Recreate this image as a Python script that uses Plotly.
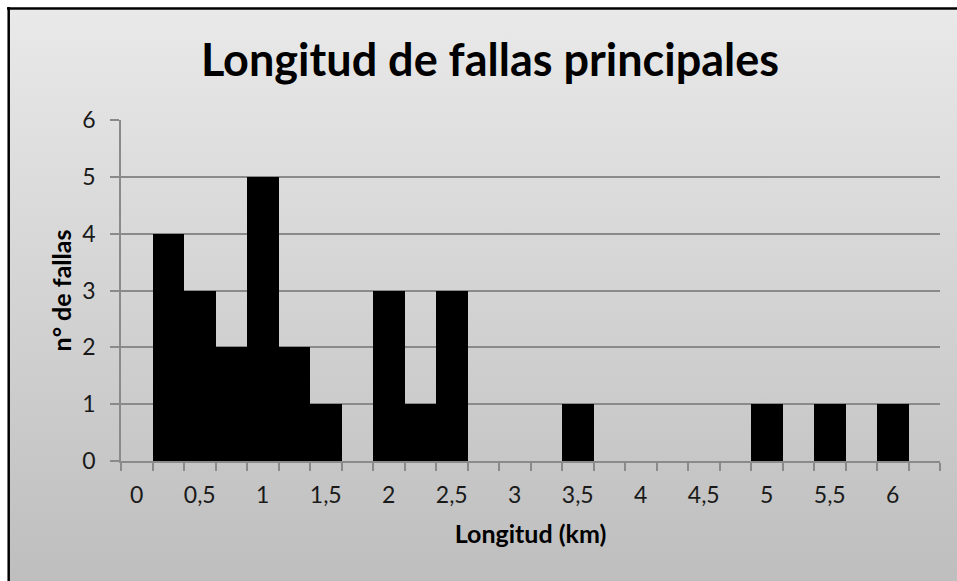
import base64
import plotly.graph_objects as go

# ---- data ----
bin_values = [0, 0.25, 0.5, 0.75, 1, 1.25, 1.5, 1.75, 2, 2.25, 2.5, 2.75, 3,
              3.25, 3.5, 3.75, 4, 4.25, 4.5, 4.75, 5, 5.25, 5.5, 5.75, 6, 6.25]
counts = [0, 4, 3, 2, 5, 2, 1, 0, 3, 1, 3, 0, 0,
          0, 1, 0, 0, 0, 0, 0, 1, 0, 1, 0, 1, 0]
y_ticks = [0, 1, 2, 3, 4, 5, 6]

title_text = "Longitud de fallas principales"
x_title = "Longitud (km)"
y_title = "n° de fallas"

# ---- geometry (figure pixels; body margin removed below) ----
W, H = 957, 581
L, R, T, B = 121, 940, 120, 461
pw, ph = R - L, B - T


def px(x):
    return (x - L) / pw


def py(y):
    return (B - y) / ph


bin_w = bin_values[1] - bin_values[0]

svg = (
    '<svg xmlns="http://www.w3.org/2000/svg" width="100" height="100" preserveAspectRatio="none">'
    '<defs><linearGradient id="g" x1="0" y1="0" x2="0" y2="1">'
    '<stop offset="0" stop-color="#e9e9e9"/><stop offset="1" stop-color="#bebebe"/>'
    '</linearGradient></defs><rect width="100" height="100" fill="url(#g)"/></svg>'
)
src = "data:image/svg+xml;base64," + base64.b64encode(svg.encode()).decode()

fig = go.Figure(
    go.Bar(
        x=bin_values,
        y=counts,
        width=bin_w,
        marker=dict(color="#000000", line=dict(width=0)),
        hoverinfo="x+y",
    )
)

axis_col = "#8a8a8a"
font_fam = "Lato, 'Open Sans', sans-serif"

fig.update_layout(
    width=W,
    height=H,
    margin=dict(l=L, r=W - R, t=T, b=H - B, pad=0),
    paper_bgcolor="#ffffff",
    plot_bgcolor="#ffffff",
    separators=",.",
    showlegend=False,
    bargap=0,
    font=dict(family=font_fam, color="#1a1a1a"),
    title=dict(
        text="<b>" + title_text + "</b>",
        x=490 / W,
        xref="container",
        xanchor="center",
        y=1 - 60 / H,
        yref="container",
        yanchor="middle",
        font=dict(size=45, color="#000000", family=font_fam),
    ),
    xaxis=dict(
        range=[bin_values[0] - bin_w / 2, bin_values[-1] + bin_w / 2],
        tick0=0,
        dtick=0.5,
        ticks="",
        ticklabelstandoff=13,
        showgrid=False,
        zeroline=False,
        showline=True,
        linecolor=axis_col,
        linewidth=1.5,
        tickfont=dict(size=23, color="#1a1a1a"),
        minor=dict(tick0=bin_values[0] - bin_w / 2, dtick=bin_w, ticks="outside",
                   ticklen=8, tickwidth=1.5, tickcolor=axis_col, showgrid=False),
        title=dict(text="<b>" + x_title + "</b>", font=dict(size=25, color="#000000"), standoff=18),
        fixedrange=True,
    ),
    yaxis=dict(
        range=[0, 6],
        tickvals=y_ticks,
        ticks="outside",
        ticklen=9,
        tickwidth=1.5,
        tickcolor=axis_col,
        showgrid=True,
        gridcolor=axis_col,
        gridwidth=1.5,
        zeroline=False,
        showline=True,
        linecolor=axis_col,
        linewidth=1.5,
        tickfont=dict(size=23, color="#1a1a1a"),
        ticklabelstandoff=10,
        title=dict(text="<b>" + y_title + "</b>", font=dict(size=25, color="#000000"), standoff=4),
        fixedrange=True,
    ),
    images=[dict(
        source=src, xref="paper", yref="paper",
        x=px(10), y=py(10), sizex=px(W) - px(10), sizey=py(10) - py(H),
        xanchor="left", yanchor="top", sizing="stretch", layer="below",
    )],
    shapes=[
        dict(type="line", xref="paper", yref="paper", x0=px(7), x1=px(W), y0=py(8.5), y1=py(8.5),
             line=dict(color="#000000", width=2.5)),
        dict(type="line", xref="paper", yref="paper", x0=px(8.7), x1=px(8.7), y0=py(7), y1=py(H),
             line=dict(color="#000000", width=2.5)),
    ],
)

fig.write_html(
    "out.html",
    config={"displayModeBar": False},
    post_script="document.body.style.margin='0';document.documentElement.style.overflow='hidden';document.body.style.overflow='hidden';",
)
